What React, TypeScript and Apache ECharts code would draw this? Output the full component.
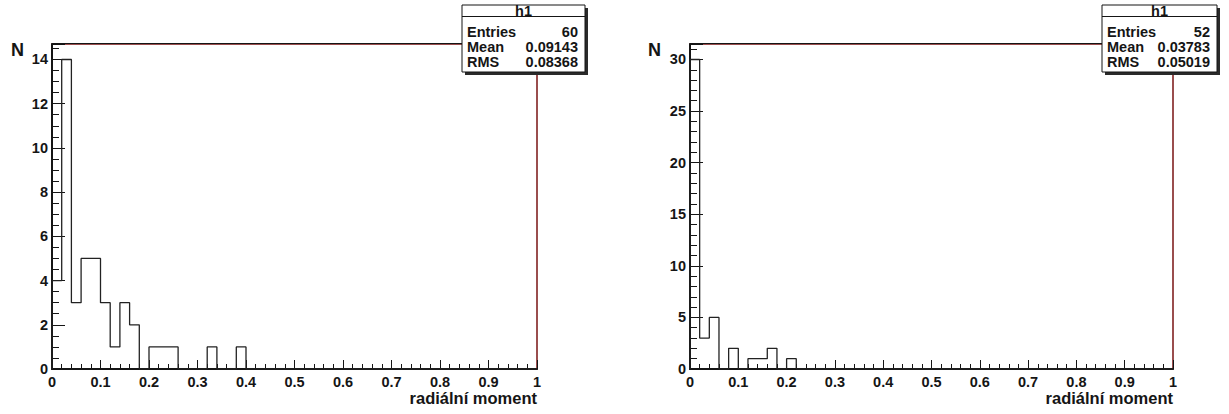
import React, { useEffect, useRef } from "react";
import * as echarts from "echarts";

// ---- data ----
const binWidth = 0.02;
const countsLeft = [
  4, 14, 3, 5, 5, 3, 1, 3, 2, 0,
  1, 1, 1, 0, 0, 0, 1, 0, 0, 1,
  0, 0, 0, 0, 0, 0, 0, 0, 0, 0,
  0, 0, 0, 0, 0, 0, 0, 0, 0, 0,
  0, 0, 0, 0, 0, 0, 0, 0, 0, 0,
];
const countsRight = [
  30, 3, 5, 0, 2, 0, 1, 1, 2, 0,
  1, 0, 0, 0, 0, 0, 0, 0, 0, 0,
  0, 0, 0, 0, 0, 0, 0, 0, 0, 0,
  0, 0, 0, 0, 0, 0, 0, 0, 0, 0,
  0, 0, 0, 0, 0, 0, 0, 0, 0, 0,
];
const statsTitle = "h1";
const statsLabels = ["Entries", "Mean", "RMS"];
const statsLeftValues = ["60", "0.09143", "0.08368"];
const statsRightValues = ["52", "0.03783", "0.05019"];
const yTitle = "N";
const xTitle = "radiální moment";

const FONT = "'Liberation Sans', Arial, Helvetica, sans-serif";
const INK = "#151515";

function stepData(counts: number[]) {
  const pts: number[][] = [[0, 0]];
  counts.forEach((c, i) => pts.push([+(i * binWidth).toFixed(2), c]));
  pts.push([1, counts[counts.length - 1]]);
  pts.push([1, 0]);
  return pts;
}

function txt(x: number, y: number, text: string, size: number, align: string, vAlign: string) {
  return {
    type: "text",
    x,
    y,
    z: 100,
    style: {
      text,
      font: `bold ${size}px ${FONT}`,
      fill: INK,
      align,
      textAlign: align,
      verticalAlign: vAlign,
      textVerticalAlign: vAlign,
    },
  };
}

function statsBox(x: number, w: number, values: string[]) {
  const y = 5;
  const h = 67;
  const els: any[] = [
    { type: "rect", z: 99, shape: { x: x + 3, y: y + 3, width: w, height: h }, style: { fill: "#2a2a2a" } },
    { type: "rect", z: 99, shape: { x, y, width: w, height: h }, style: { fill: "#fff", stroke: INK, lineWidth: 1 } },
    { type: "line", z: 100, shape: { x1: x, y1: 16.5, x2: x + w, y2: 16.5 }, style: { stroke: INK, lineWidth: 1 } },
    txt(x + w / 2, 11, statsTitle, 14.5, "center", "middle"),
  ];
  const rowY = [31.5, 46.5, 61.5];
  statsLabels.forEach((lab, i) => {
    els.push(txt(x + 5, rowY[i], lab, 14.5, "left", "middle"));
    els.push(txt(x + w - 7, rowY[i], values[i], 14.5, "right", "middle"));
  });
  return els;
}

export default function App() {
  const ref = useRef<HTMLDivElement>(null);
  useEffect(() => {
    if (!ref.current) return;
    const chart = echarts.init(ref.current, undefined, { renderer: "svg" });

    const grids = [
      { left: 52, top: 44, width: 485, height: 325 },
      { left: 690, top: 44, width: 483, height: 325 },
    ];
    const yMax = [14.7, 31.5];
    const yMajor = [2, 5];
    const yMinor = [0.5, 1];
    const counts = [countsLeft, countsRight];

    const xFmt = (v: number) => String(+v.toFixed(1));

    const xAxis = grids.map((_, i) => ({
      type: "value",
      gridIndex: i,
      min: 0,
      max: 1,
      interval: 0.1,
      axisLine: { show: true, onZero: false, lineStyle: { color: INK, width: 2 } },
      axisTick: { show: true, inside: true, length: 9, lineStyle: { color: INK, width: 1 } },
      minorTick: { show: true, splitNumber: 5, length: 5, lineStyle: { color: INK, width: 1 } },
      splitLine: { show: false },
      minorSplitLine: { show: false },
      axisLabel: { fontFamily: FONT, fontWeight: "bold", fontSize: 14.5, color: INK, margin: 5, formatter: xFmt },
    }));

    const yAxis: any[] = [];
    grids.forEach((_, i) => {
      yAxis.push({
        type: "value",
        gridIndex: i,
        position: "left",
        min: 0,
        max: yMax[i],
        interval: yMajor[i],
        axisLine: { show: true, onZero: false, lineStyle: { color: INK, width: 2 } },
        axisTick: { show: true, inside: true, length: 13, lineStyle: { color: INK, width: 1 } },
        splitLine: { show: false },
        axisLabel: {
          fontFamily: FONT,
          fontWeight: "bold",
          fontSize: 14.5,
          color: INK,
          margin: 4,
          formatter: (v: number) => (Math.abs(v / yMajor[i] - Math.round(v / yMajor[i])) < 1e-6 ? String(v) : ""),
        },
      });
      yAxis.push({
        type: "value",
        gridIndex: i,
        position: "left",
        min: 0,
        max: yMax[i],
        interval: yMinor[i],
        axisLine: { show: false },
        axisTick: { show: true, inside: true, length: 7, lineStyle: { color: INK, width: 1 } },
        splitLine: { show: false },
        axisLabel: { show: false },
      });
    });

    const series = counts.map((c, i) => ({
      type: "line",
      xAxisIndex: i,
      yAxisIndex: i * 2,
      data: stepData(c),
      step: "end",
      showSymbol: false,
      symbol: "none",
      silent: true,
      lineStyle: { color: "#222", width: 1.3 },
      z: 5,
    }));

    const topLines = grids.map((g) => ({
      type: "line",
      z: 50,
      shape: { x1: g.left, y1: g.top - 0.5, x2: g.left + g.width, y2: g.top - 0.5 },
      style: { stroke: INK, lineWidth: 1.2 },
    }));

    const graphic: any[] = [
      ...topLines,
      txt(11, 50, yTitle, 18, "left", "middle"),
      txt(648, 50, yTitle, 18, "left", "middle"),
      txt(537, 398, xTitle, 16.5, "right", "middle"),
      txt(1173, 398, xTitle, 16.5, "right", "middle"),
      ...statsBox(462, 123, statsLeftValues),
      ...statsBox(1102, 115, statsRightValues),
    ];

    chart.setOption({
      animation: false,
      backgroundColor: "#ffffff",
      grid: grids.map((g) => ({
        ...g,
        show: true,
        borderColor: "#7a1414",
        borderWidth: 1.5,
        backgroundColor: "transparent",
        containLabel: false,
      })),
      xAxis,
      yAxis,
      series,
      graphic,
    });
    return () => chart.dispose();
  }, []);
  return (
    <div
      ref={ref}
      style={{ position: "fixed", left: 0, top: 0, width: 1229, height: 414, background: "#fff" }}
    />
  );
}
